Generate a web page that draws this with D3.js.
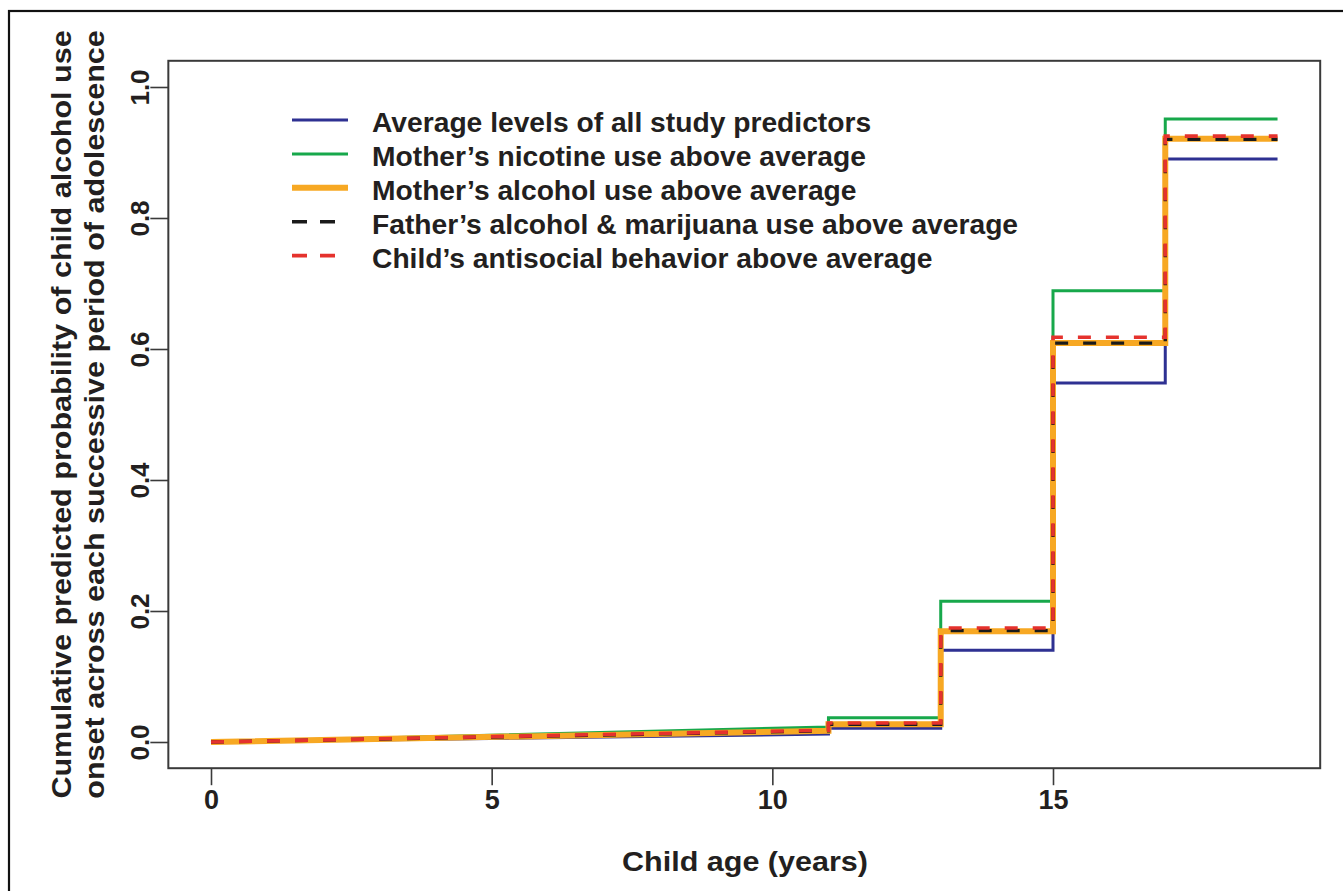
<!DOCTYPE html>
<html>
<head>
<meta charset="utf-8">
<script src="https://cdn.jsdelivr.net/npm/d3@7"></script>
<style>
  html, body { margin: 0; padding: 0; background: #fff; }
  svg { display: block; }
  text { font-family: "Liberation Sans", Arial, Helvetica, sans-serif; font-weight: bold; fill: #231f20; }
</style>
</head>
<body>
<svg id="chart" width="1343" height="891"></svg>
<script>
// ---------- data ----------
const ages = [0, 11, 11, 13, 13, 15, 15, 17, 17, 19];
const averageLevels   = [0, 0.012, 0.021, 0.021, 0.140, 0.140, 0.548, 0.548, 0.890, 0.890];
const motherNicotine  = [0, 0.023, 0.037, 0.037, 0.215, 0.215, 0.689, 0.689, 0.951, 0.951];
const motherAlcohol   = [0, 0.017, 0.027, 0.027, 0.169, 0.169, 0.609, 0.609, 0.921, 0.921];
const fatherAlcMarij  = [0, 0.017, 0.027, 0.027, 0.170, 0.170, 0.609, 0.609, 0.920, 0.920];
const childAntisocial = [0, 0.018, 0.029, 0.029, 0.174, 0.174, 0.618, 0.618, 0.925, 0.925];

const seriesNames = [
  "Average levels of all study predictors",
  "Mother\u2019s nicotine use above average",
  "Mother\u2019s alcohol use above average",
  "Father\u2019s alcohol & marijuana use above average",
  "Child\u2019s antisocial behavior above average"
];
const xTicks = [0, 5, 10, 15];
const yTicks = [0, 0.2, 0.4, 0.6, 0.8, 1.0];
const xTitle = "Child age (years)";
const yTitleLines = [
  "Cumulative predicted probability of child alcohol use",
  "onset across each successive period of adolescence"
];

// ---------- styles ----------
const seriesData = [averageLevels, motherNicotine, motherAlcohol, fatherAlcMarij, childAntisocial];
const styles = [
  { color: "#2e3192", width: 3.0, dash: null },
  { color: "#17a84b", width: 3.0, dash: null },
  { color: "#f7a823", width: 6,   dash: null },
  { color: "#1a1a1a", width: 3.4, dash: "13,15" },
  { color: "#e5322d", width: 3.6, dash: "13,15" }
];

const svg = d3.select("#chart");

// outer frame
svg.append("rect").attr("x", 9).attr("y", 11).attr("width", 1360).attr("height", 900)
  .attr("fill", "none").attr("stroke", "#111").attr("stroke-width", 2.2);

// scales
const x = d3.scaleLinear().domain([0, 15]).range([211, 1053]);
const y = d3.scaleLinear().domain([0, 1]).range([742, 87]);
const xLim = [-0.76, 19.76], yLim = [-0.04, 1.04];
const boxL = x(xLim[0]), boxR = x(xLim[1]), boxT = y(yLim[1]), boxB = y(yLim[0]);

// plot box
svg.append("rect").attr("x", boxL).attr("y", boxT)
  .attr("width", boxR - boxL).attr("height", boxB - boxT)
  .attr("fill", "none").attr("stroke", "#3a3a3a").attr("stroke-width", 2);

// x axis
const xAxis = svg.append("g").attr("transform", `translate(0,${boxB})`)
  .call(d3.axisBottom(x).tickValues(xTicks).tickSize(17).tickFormat(d3.format("d")));
xAxis.select(".domain").remove();
xAxis.selectAll(".tick line").attr("stroke", "#3a3a3a").attr("stroke-width", 1.6);
xAxis.selectAll(".tick text").attr("y", 0).attr("dy", null)
  .attr("transform", "translate(0,41)")
  .style("font-size", "27px").style("fill", "#231f20")
  .style("font-family", "'Liberation Sans', Arial, sans-serif").style("font-weight", "bold");

// y axis
const yAxis = svg.append("g").attr("transform", `translate(${boxL},0)`)
  .call(d3.axisLeft(y).tickValues(yTicks).tickSize(18).tickFormat(d3.format(".1f")));
yAxis.select(".domain").remove();
yAxis.selectAll(".tick line").attr("stroke", "#3a3a3a").attr("stroke-width", 1.6);
yAxis.selectAll(".tick text").attr("x", 0).attr("dy", null)
  .attr("text-anchor", "middle")
  .attr("transform", "translate(-19,0) rotate(-90)")
  .style("font-size", "26px").style("fill", "#231f20")
  .style("font-family", "'Liberation Sans', Arial, sans-serif").style("font-weight", "bold");

// lines
const line = d3.line().x((d, i) => x(ages[i])).y(d => y(d));
seriesData.forEach((vals, k) => {
  const s = styles[k];
  svg.append("path").datum(vals)
    .attr("d", line)
    .attr("fill", "none")
    .attr("stroke", s.color)
    .attr("stroke-width", s.width)
    .attr("stroke-linejoin", "miter")
    .attr("stroke-dasharray", s.dash);
});

// stretch helper
function stretch(sel, f) {
  sel.each(function() {
    const L = this.getComputedTextLength();
    d3.select(this).attr("textLength", L * f).attr("lengthAdjust", "spacingAndGlyphs");
  });
}

// legend
const lg = svg.append("g");
seriesNames.forEach((name, k) => {
  const s = styles[k];
  const base = 132 + k * 33.9;
  lg.append("line").attr("x1", 292).attr("x2", 348)
    .attr("y1", base - 12).attr("y2", base - 12)
    .attr("stroke", s.color).attr("stroke-width", s.width)
    .attr("stroke-dasharray", s.dash ? "15,13" : null);
  lg.append("text").attr("x", 372).attr("y", base)
    .style("font-size", "27px").text(name);
});
stretch(lg.selectAll("text"), 1.045);

// x title
const xt = svg.append("text").attr("x", 745).attr("y", 871)
  .attr("text-anchor", "middle").style("font-size", "28px").text(xTitle);
stretch(xt, 1.09);

// y title
const yBase = [71, 104];
const midY = (boxT + boxB) / 2;
yTitleLines.forEach((t, i) => {
  const yt = svg.append("text")
    .attr("transform", `translate(${yBase[i]},${midY}) rotate(-90)`)
    .attr("text-anchor", "middle").style("font-size", "28px").text(t);
  stretch(yt, 1.09);
});
</script>
</body>
</html>
